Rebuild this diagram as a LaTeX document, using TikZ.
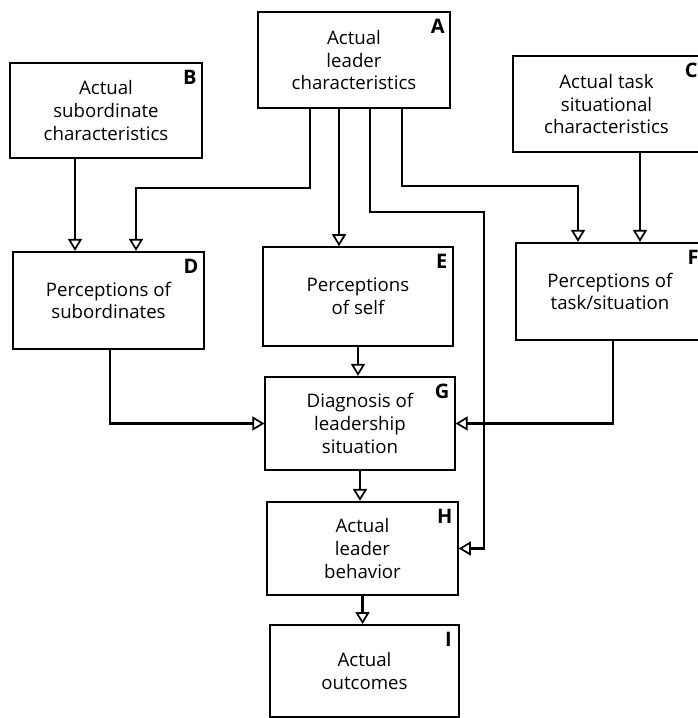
\documentclass[tikz,border=0pt]{standalone}
\usepackage{fontspec}
\setmainfont{Open Sans}
\usetikzlibrary{arrows.meta,calc}
\begin{document}
\begin{tikzpicture}[x=0.75pt,y=-0.75pt,
  box/.style={draw,line width=1.4pt,rectangle,inner sep=0pt,align=center,
    font=\fontsize{14}{17}\selectfont},
  tag/.style={anchor=north east,inner sep=0pt,font=\fontsize{15}{17}\selectfont\bfseries},
  arr/.style={line width=1.9pt,-{Triangle[open,length=9pt,width=10.5pt,line width=1.3pt]}}]
\useasboundingbox (0,0) rectangle (697,718);
\fill[white] (0,0) rectangle (697,718);
% boxes
\node[box,minimum width=144pt,minimum height=72pt] (A) at (354,60) {Actual\\leader\\characteristics};
\node[box,minimum width=144pt,minimum height=71pt] (B) at (106,110.5) {Actual\\subordinate\\characteristics};
\node[box,minimum width=140pt,minimum height=72pt] (C) at (606.5,104) {Actual task\\situational\\characteristics};
\node[box,minimum width=143pt,minimum height=73pt] (D) at (108.5,300.5) {Perceptions of\\subordinates};
\node[box,minimum width=142pt,minimum height=74pt] (E) at (358,296.5) {Perceptions\\of self};
\node[box,minimum width=141pt,minimum height=73pt] (F) at (610,291.5) {Perceptions of\\task/situation};
\node[box,minimum width=142pt,minimum height=70pt] (G) at (360,423.5) {Diagnosis of\\leadership\\situation};
\node[box,minimum width=143pt,minimum height=70pt] (H) at (362.5,548.5) {Actual\\leader\\behavior};
\node[box,minimum width=142pt,minimum height=69pt] (I) at (364.5,671) {Actual\\outcomes};
% corner letters
\node[tag] (la) at ($(A.north east)+(-6,8)$) {A};
\node[tag] (lb) at ($(B.north east)+(-6,8)$) {B};
\node[tag] (lc) at ($(C.north east)+(-3,8)$) {C};
\node[tag] (ld) at ($(D.north east)+(-6,8)$) {D};
\node[tag] (le) at ($(E.north east)+(-6,8)$) {E};
\node[tag] (lf) at ($(F.north east)+(-6,8)$) {F};
\node[tag] (lg) at ($(G.north east)+(-6,8)$) {G};
\node[tag] (lh) at ($(H.north east)+(-6,8)$) {H};
\node[tag] (li) at ($(I.north east)+(-8,8)$) {I};
% connectors
\draw[arr] (A.south -| 310,0) |- (136,188) -- (D.north -| 136,0);
\draw[arr] (B.south -| 75,0) -- (D.north -| 75,0);
\draw[arr] (A.south -| 339,0) -- (E.north -| 339,0);
\draw[arr] (A.south -| 370,0) |- (484,212) |- (H.east);
\draw[arr] (A.south -| 402,0) |- (578,186) -- (F.north -| 578,0);
\draw[arr] (C.south -| 640,0) -- (F.north -| 640,0);
\draw[arr] (D.south -| 110,0) |- (G.west);
\draw[arr] (E.south) -- (E.south |- G.north);
\draw[arr] (F.south -| 613,0) |- (G.east);
\draw[arr] (G.south) -- (G.south |- H.north);
\draw[arr] (H.south) -- (H.south |- I.north);
\end{tikzpicture}
\end{document}
